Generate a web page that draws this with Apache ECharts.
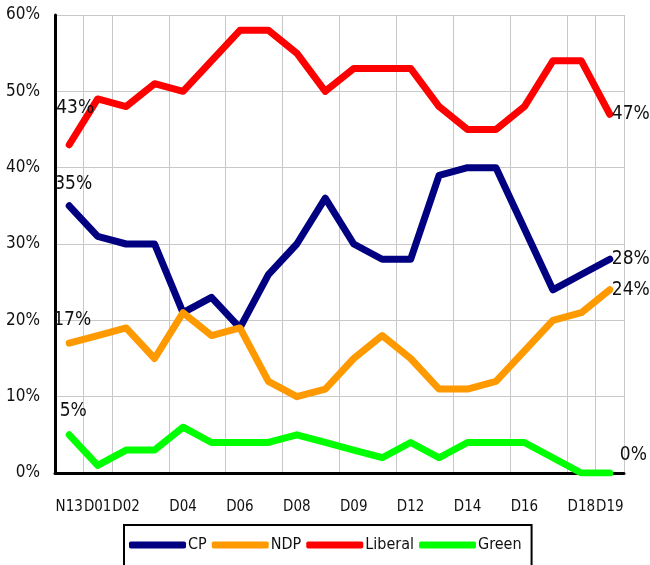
<!DOCTYPE html>
<html>
<head>
<meta charset="utf-8">
<script src="https://cdn.jsdelivr.net/npm/echarts@6/dist/echarts.min.js"></script>
<style>
html,body{margin:0;padding:0;background:#fff;}
#chart{width:650px;height:565px;}
</style>
</head>
<body>
<div id="chart"></div>
<script>
var categories = ['N13','D01','D02','D03','D04','D05','D06','D07','D08','D08b','D09','D10','D12','D13','D14','D15','D16','D17','D18','D19'];
var shownLabels = [0,1,2,4,6,8,10,12,14,16,18,19];
var cpValues      = [35,31,30,30,21,23,19,26,30,36,30,28,28,39,40,40,32,24,26,28];
var ndpValues     = [17,18,19,15,21,18,19,12,10,11,15,18,15,11,11,12,16,20,21,24];
var liberalValues = [43,49,48,51,50,54,58,58,55,50,53,53,53,48,45,45,48,54,54,47];
var greenValues   = [5,1,3,3,6,4,4,4,5,4,3,2,4,2,4,4,4,2,0,0];
var yTicks = [0,10,20,30,40,50,60];

var FONT = '"DejaVu Sans Condensed","DejaVu Sans",sans-serif';
var STRETCH = 'condensed';

function buildData(values, startOffset, endOffset) {
  return values.map(function (v, i) {
    if (i === 0) {
      return {value: v, label: {show: true, position: 'top', offset: startOffset}};
    }
    if (i === values.length - 1) {
      return {value: v, label: {show: true, position: 'right', offset: endOffset}};
    }
    return v;
  });
}

function makeSeries(name, values, color, startOffset, endOffset) {
  return {
    name: name,
    type: 'line',
    data: buildData(values, startOffset, endOffset),
    symbol: 'circle',
    symbolSize: 0,
    showSymbol: true,
    lineStyle: {color: color, width: 7, cap: 'round', join: 'round'},
    itemStyle: {color: color},
    label: {
      show: false,
      formatter: '{c}%',
      fontFamily: FONT,
      fontStyle: STRETCH,
      fontSize: 19,
      distance: 0,
      color: '#111'
    },
    emphasis: {disabled: true},
    animation: false
  };
}

var chart = echarts.init(document.getElementById('chart'), null, {renderer: 'canvas'});
chart.setOption({
  animation: false,
  grid: {left: 55, right: 26, top: 15, bottom: 92, containLabel: false},
  xAxis: {
    type: 'category',
    data: categories,
    boundaryGap: true,
    axisLine: {show: true, lineStyle: {color: '#000', width: 3}},
    axisTick: {show: false},
    splitLine: {show: true, lineStyle: {color: '#c8c8c8', width: 1}},
    axisLabel: {
      interval: function (idx) { return shownLabels.indexOf(idx) >= 0; },
      showMinLabel: true,
      showMaxLabel: true,
      hideOverlap: false,
      margin: 27,
      fontFamily: FONT,
      fontStyle: STRETCH,
      fontSize: 15,
      color: '#111'
    }
  },
  yAxis: {
    type: 'value',
    min: yTicks[0],
    max: yTicks[yTicks.length - 1],
    interval: 10,
    axisLine: {show: true, lineStyle: {color: '#000', width: 3}},
    axisTick: {show: false},
    splitLine: {show: true, lineStyle: {color: '#c8c8c8', width: 1}},
    axisLabel: {
      formatter: '{value}%',
      margin: 15,
      fontFamily: FONT,
      fontStyle: STRETCH,
      fontSize: 17,
      color: '#111'
    }
  },
  legend: {
    left: 124,
    top: 525,
    orient: 'horizontal',
    itemWidth: 57,
    itemHeight: 7,
    itemGap: 5,
    icon: 'roundRect',
    borderColor: '#000',
    borderWidth: 2,
    padding: [12, 10, 30, 5],
    textStyle: {fontFamily: FONT, fontStyle: STRETCH, fontSize: 16, color: '#111', padding: [4, 0, 0, -3]},
    data: ['CP', 'NDP', 'Liberal', 'Green']
  },
  series: [
    makeSeries('CP', cpValues, '#000080', [4, -12], [2, 0]),
    makeSeries('NDP', ndpValues, '#ff9900', [3, -14], [2, 0]),
    makeSeries('Liberal', liberalValues, '#ff0000', [6, -27], [2, 0]),
    makeSeries('Green', greenValues, '#00ff00', [4, -14], [10, -18])
  ]
});
</script>
</body>
</html>
